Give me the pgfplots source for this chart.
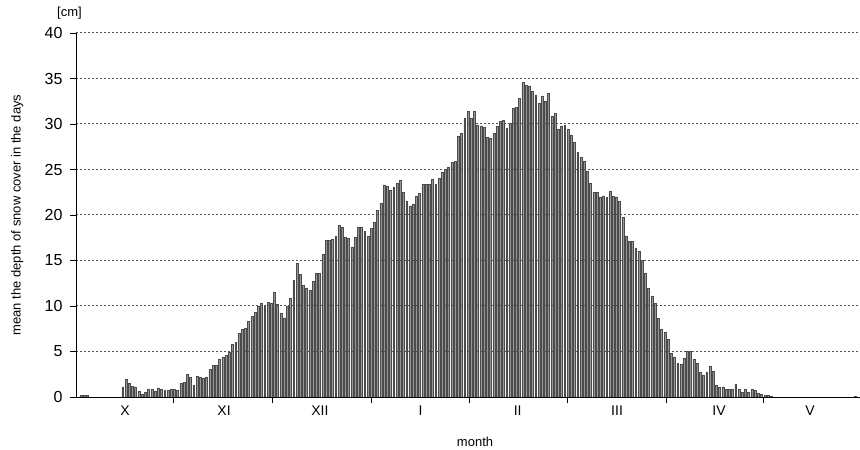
\documentclass[border=0pt]{standalone}
\usepackage{fontspec}
\setmainfont{Liberation Sans}
\usepackage{pgfplots}
\pgfplotsset{compat=1.18}
\definecolor{barfill}{RGB}{150,150,150}
\definecolor{baredge}{RGB}{75,75,75}
\definecolor{gridc}{RGB}{80,80,80}
\begin{document}
\begin{tikzpicture}
\path[use as bounding box] (0,0) rectangle (860bp,450bp);
\begin{axis}[
  at={(76bp,53bp)}, anchor=south west,
  scale only axis, width=784bp, height=364bp,
  xmin=0.5, xmax=243.5, ymin=0, ymax=40,
  axis x line*=bottom, axis y line*=left,
  axis line style={black, line width=0.8bp},
  ytick={0,5,...,40},
  xtick={30.7,61.4,92,122.4,152.9,183.4,213.5},
  xticklabels={},
  extra x ticks={15.7,46.4,76.1,107.3,137.4,168.2,199.8,228},
  extra x tick labels={X,XI,XII,I,II,III,IV,V},
  extra x tick style={major tick length=0pt, grid=none},
  tick align=outside, major tick length=6bp,
  tick style={black, line width=0.8bp},
  ymajorgrids,
  major grid style={gridc, line width=1bp, dash pattern=on 1.8bp off 2.2bp},
  axis on top,
  /pgf/number format/assume math mode=true,
  yticklabel style={font=\fontsize{16bp}{18bp}\selectfont, xshift=-4bp},
  xticklabel style={font=\fontsize{14bp}{16bp}\selectfont, yshift=-5bp},
  xlabel={month},
  ylabel={mean the depth of snow cover in the days},
  every axis x label/.style={at={(axis description cs:0.509,-0.122)}, anchor=center, font=\fontsize{13bp}{15bp}\selectfont},
  every axis y label/.style={at={(axis description cs:-0.075,0.5)}, rotate=90, anchor=center, font=\fontsize{13bp}{15bp}\selectfont},
]
\addplot[ybar, bar width=1.9bp, fill=barfill, draw=baredge, line width=0.5bp] table[x=d, y=v] {
d v
2 0.2
3 0.2
4 0.2
15 1.1
16 1.9
17 1.5
18 1.2
19 1.1
20 0.6
21 0.3
22 0.5
23 0.8
24 0.8
25 0.6
26 1.0
27 0.8
28 0.7
29 0.7
30 0.9
31 0.85
32 0.7
33 1.5
34 1.6
35 2.5
36 2.2
37 1.3
38 2.3
39 2.2
40 2.1
41 2.2
42 3.0
43 3.5
44 3.5
45 4.2
46 4.4
47 4.6
48 4.9
49 5.8
50 6.0
51 7.0
52 7.4
53 7.5
54 8.3
55 8.9
56 9.3
57 10.0
58 10.3
59 10.1
60 10.4
61 10.3
62 11.5
63 10.2
64 9.2
65 8.7
66 10.0
67 10.9
68 12.8
69 14.7
70 13.5
71 12.3
72 12.0
73 11.7
74 12.7
75 13.6
76 13.6
77 15.7
78 17.2
79 17.2
80 17.3
81 17.7
82 18.9
83 18.6
84 17.6
85 17.4
86 16.5
87 17.5
88 18.7
89 18.7
90 18.2
91 17.7
92 18.5
93 19.2
94 20.5
95 21.3
96 23.3
97 23.2
98 22.7
99 23.0
100 23.5
101 23.8
102 22.5
103 21.5
104 21.0
105 21.2
106 22.1
107 22.4
108 23.4
109 23.4
110 23.4
111 23.9
112 23.4
113 24.0
114 24.7
115 25.0
116 25.3
117 25.8
118 25.9
119 28.7
120 29.0
121 30.6
122 31.4
123 30.6
124 31.4
125 29.9
126 29.8
127 29.6
128 28.5
129 28.4
130 29.0
131 29.8
132 30.3
133 30.4
134 29.5
135 30.1
136 31.7
137 31.8
138 32.8
139 34.6
140 34.3
141 34.2
142 33.6
143 33.2
144 32.3
145 33.1
146 32.5
147 33.4
148 30.9
149 31.2
150 29.4
151 29.8
152 29.9
153 29.4
154 28.8
155 28.0
156 26.9
157 26.3
158 25.9
159 24.8
160 23.5
161 22.5
162 22.5
163 21.9
164 22.1
165 21.9
166 22.6
167 22.1
168 22.0
169 21.5
170 19.7
171 17.7
172 17.1
173 17.1
174 16.4
175 16.0
176 15.0
177 13.6
178 12.0
179 11.1
180 10.3
181 8.6
182 7.4
183 7.1
184 6.3
185 4.8
186 4.4
187 3.7
188 3.6
189 4.3
190 5.0
191 5.0
192 4.1
193 3.7
194 2.7
195 2.4
196 2.7
197 3.4
198 2.8
199 1.3
200 1.1
201 1.1
202 0.8
203 0.8
204 0.8
205 1.4
206 0.8
207 0.5
208 0.8
209 0.5
210 0.8
211 0.7
212 0.4
213 0.3
214 0.2
215 0.15
216 0.05
242 0.1
};
\end{axis}
\node[font=\fontsize{13bp}{15bp}\selectfont] at (69.5bp,436.5bp) {[cm]};
\end{tikzpicture}
\end{document}
